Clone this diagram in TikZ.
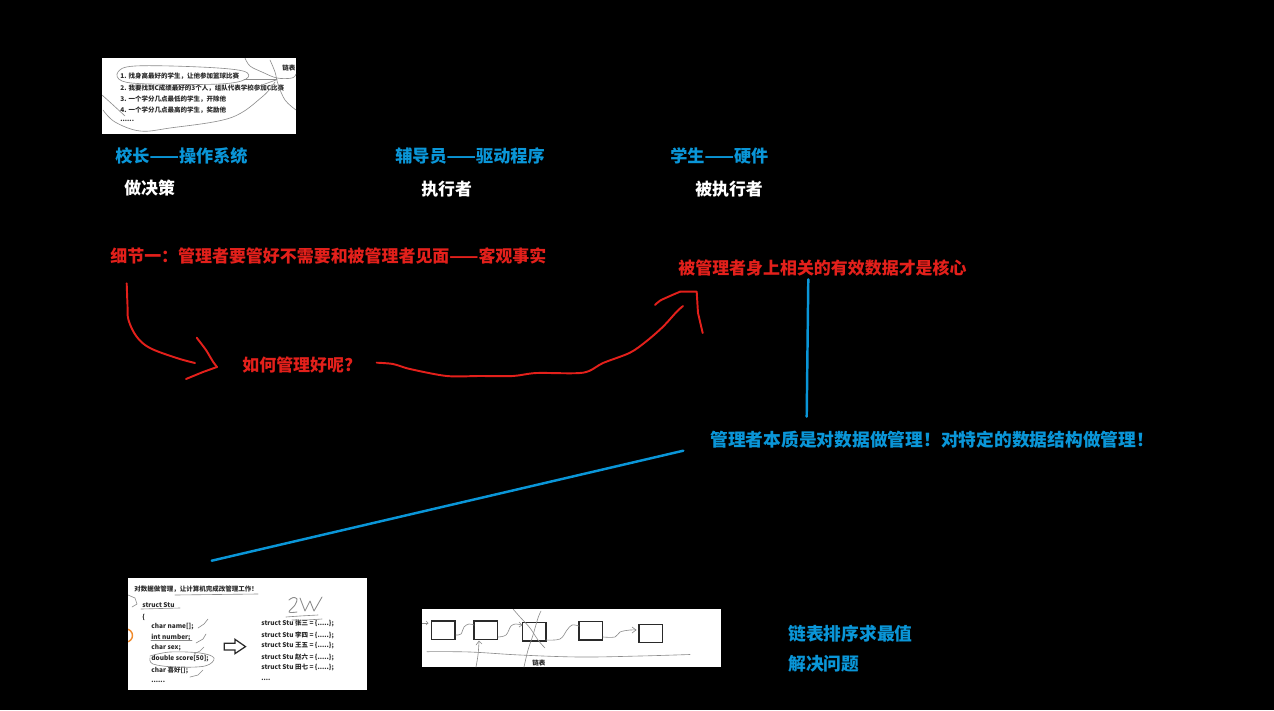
\documentclass[tikz,border=0pt]{standalone}
\usepackage{fontspec}
\setmainfont{Noto Sans CJK SC}
\definecolor{myblue}{HTML}{0A96D8}
\definecolor{myred}{HTML}{E3201B}
\definecolor{scrib}{HTML}{8C8C8C}
\definecolor{thumbink}{HTML}{2A2A2A}
\definecolor{myorange}{HTML}{F08A2C}
\begin{document}
\begin{tikzpicture}[x=0.02cm,y=-0.02cm,
  bluetxt/.style={anchor=west,inner sep=0pt,text=myblue,font=\bfseries\fontsize{9.75}{11}\selectfont},
  bluebig/.style={anchor=west,inner sep=0pt,text=myblue,font=\bfseries\fontsize{10.1}{12}\selectfont},
  whitetxt/.style={anchor=west,inner sep=0pt,text=white,font=\bfseries\fontsize{9.6}{11}\selectfont},
  redtxt/.style={anchor=west,inner sep=0pt,text=myred,font=\bfseries\fontsize{9.65}{11}\selectfont},
  thumbtxt/.style={anchor=west,inner sep=0pt,text=thumbink,font=\bfseries\fontsize{3.7}{4}\selectfont},
  scribble/.style={draw=scrib,line width=0.35pt,line cap=round,line join=round},
  redstroke/.style={draw=myred,line width=1.1pt,line cap=round,line join=round},
  blueline/.style={draw=myblue,line width=1.4pt,line cap=round},
  thumbbox/.style={draw=thumbink,line width=0.9pt}
]
\fill[black] (0,0) rectangle (1274,710);
\useasboundingbox (0,0) rectangle (1274,710);

% ---------- thumbnail 1 ----------
\fill[white] (102,58) rectangle (296,134);
\begin{scope}
\clip (102,58) rectangle (296,134);
\node[thumbtxt] (t1a) at (120,76) {1. 找身高最好的学生，让他参加篮球比赛};
\node[thumbtxt] (t1b) at (120,88) {2. 我要找到C成绩最好的3个人，组队代表学校参加C比赛};
\node[thumbtxt] (t1c) at (120,99) {3. 一个学分几点最低的学生，开除他};
\node[thumbtxt] (t1d) at (120,110) {4. 一个学分几点最高的学生，奖励他};
\node[thumbtxt] (t1e) at (120,121) {......};
\node[thumbtxt] (t1f) at (282,68) {链表};
\draw[scribble] plot[smooth cycle,tension=0.6] coordinates {(118,72) (135,66) (200,67) (243,71) (246,79) (220,84) (150,84) (122,81)};
\draw[scribble] plot[smooth,tension=0.6] coordinates {(103,110) (115,122) (140,131) (170,128) (230,118) (262,97) (275,82)};
\draw[scribble] plot[smooth,tension=0.6] coordinates {(102,95) (112,104) (125,116)};
\draw[scribble] plot[smooth,tension=0.6] coordinates {(245,58) (250,66) (262,72) (277,78) (292,78) (296,74)};
\draw[scribble] plot[smooth,tension=0.6] coordinates {(270,60) (275,72) (278,84) (285,100) (296,110)};
\draw[scribble] (244,79) -- (277,79);
\draw[scribble] (248,90) -- (276,80);
\end{scope}

% ---------- headings ----------
\node[bluetxt] (principal) at (115,156) {校长——操作系统};
\node[whitetxt] (decide) at (124,188) {做决策};
\node[bluetxt] (counselor) at (395,156) {辅导员——驱动程序};
\node[whitetxt] (executor) at (421,189) {执行者};
\node[bluetxt] (student) at (670,156) {学生——硬件};
\node[whitetxt] (executed) at (695,189) {被执行者};

\node[redtxt] (detail) at (110,256) {细节一：管理者要管好不需要和被管理者见面——客观事实};
\node[redtxt] (core) at (678,268) {被管理者身上相关的有效数据才是核心};
\node[redtxt] (how) at (242,365) {如何管理好呢?};
\node[bluebig] (essence) at (710,440) {管理者本质是对数据做管理！对特定的数据结构做管理！};
\node[bluebig] (sortmax) at (788,634) {链表排序求最值};
\node[bluebig] (solve) at (788,664) {解决问题};

% ---------- red hand-drawn arrows ----------
\coordinate (a1s) at (126.7,283.3);
\coordinate (a1e) at (195,363);
\draw[redstroke] plot[smooth,tension=0.6] coordinates {(a1s) (127.5,305) (128.5,320) (136.7,336.7) (150,348) (176.7,358) (a1e)};
\draw[redstroke] plot[smooth,tension=0.3] coordinates {(196.7,337.7) (206,350) (213,361.7) (217,367)};
\draw[redstroke] (217,367) -- (203,372) -- (186,379);

\coordinate (a2s) at (376.7,362.7);
\coordinate (a2e) at (683,306);
\draw[redstroke] plot[smooth,tension=0.5] coordinates {(a2s) (393,364) (410,369) (446.7,376) (480,376) (513,376) (536.7,373) (583,372.7) (603,363) (630,352.7) (646.7,341) (663,326.7) (676.7,311.7) (a2e)};
\draw[redstroke] plot[smooth,tension=0.5] coordinates {(655,305) (660,300.7) (670,296) (680,291.7)};
\draw[redstroke] (680,291.7) -- (696.7,291.7) -- (697.5,305) -- (698,313) -- (702.7,333);

% ---------- blue connectors ----------
\coordinate (vtop) at (808.3,279.3);
\coordinate (vbot) at (806.7,416.7);
\draw[blueline] (vtop) -- (vbot);
\coordinate (dtop) at (683.3,450.7);
\coordinate (dbot) at (211.7,560.7);
\draw[blueline] (dtop) -- (dbot);

% ---------- thumbnail 2 ----------
\fill[white] (128,578) rectangle (367,690);
\begin{scope}
\clip (128,578) rectangle (367,690);
\node[thumbtxt] (t2h) at (134,589) {对数据做管理，让计算机完成改管理工作！};
\node[thumbtxt] (s1) at (142,605) {struct Stu};
\node[thumbtxt] (s2) at (142,617) {\{};
\node[thumbtxt] (s3) at (151,627) {char name[];};
\node[thumbtxt] (s4) at (151,638) {int number;};
\node[thumbtxt] (s5) at (151,648) {char sex;};
\node[thumbtxt] (s6) at (151,659) {double score[50];};
\node[thumbtxt] (s7) at (151,670) {char 喜好[];};
\node[thumbtxt] (s8) at (151,682) {......};
\node[thumbtxt] (r1) at (261,624) {struct Stu 张三 = \{.....\};};
\node[thumbtxt] (r2) at (261,635) {struct Stu 李四 = \{.....\};};
\node[thumbtxt] (r3) at (261,646) {struct Stu 王五 = \{.....\};};
\node[thumbtxt] (r4) at (261,657) {struct Stu 赵六 = \{.....\};};
\node[thumbtxt] (r5) at (261,668) {struct Stu 田七 = \{.....\};};
\node[thumbtxt] (r6) at (261,680) {....};
\draw[thumbink,line width=0.7pt,line join=miter] (224.3,643.3) -- (235,643.3) -- (235,639.3) -- (245.5,646.6) -- (235,653.6) -- (235,650) -- (224.3,650) -- cycle;
% scribbles
\draw[scribble] (175,595) -- (258,594);
\draw[scribble] (141,609) -- (180,608);
\draw[scribble] plot[smooth,tension=0.6] coordinates {(150,656) (170,652) (200,653) (214,658) (205,666) (175,667) (153,664) (150,658)};
\draw[scribble] (198,628) -- (204,624) -- (208,619);
\draw[scribble] (196,643) -- (203,639) -- (206,634);
\draw[scribble] (194,654) -- (200,651) -- (204,647);
\draw[scribble] (190,677) -- (198,675) -- (203,670);
\draw[scribble] (151,640) -- (192,640);
\draw[scribble] (128,595) -- (135,598) -- (137,604) -- (132,607);
% 2W
\draw[scribble,line width=0.5pt] plot[smooth,tension=0.6] coordinates {(289,600) (293,597.5) (297,599) (295,605) (289,612) (297,612)};
\draw[scribble,line width=0.5pt] (300,598) -- (305,611) -- (310,601) -- (314,611) -- (322,597);
\draw[scribble] plot[smooth,tension=0.6] coordinates {(286,617) (300,616) (318,615)};
\draw[scribble] plot[smooth,tension=0.6] coordinates {(292,620) (305,620) (322,619)};
% orange arc
\draw[myorange,line width=0.8pt] (126,642) arc[start angle=90,end angle=-90,radius=6.5];
\end{scope}

% ---------- thumbnail 3 ----------
\fill[white] (422,609) rectangle (721,667);
\begin{scope}
\clip (422,609) rectangle (721,667);
\draw[thumbbox] (431.7,621) rectangle (455,639.3);
\draw[thumbbox] (474,621) rectangle (497.7,639.3);
\draw[thumbbox] (522.3,622.7) rectangle (546,641);
\draw[thumbbox] (579,621.7) rectangle (602.7,640);
\draw[thumbbox] (639,624.3) rectangle (662.3,642.7);
\node[thumbtxt] (lbl) at (532,663) {链表};
% arrows between boxes
\draw[scribble] (422,623) -- (428,623);
\draw[scribble] (426,621) -- (428,623) -- (426,625);
\draw[scribble] plot[smooth,tension=0.6] coordinates {(456,635) (461,634) (464,627) (469,624) (474,625)};
\draw[scribble] plot[smooth,tension=0.6] coordinates {(498,637) (506,635) (511,626) (516,624) (522,625)};
\draw[scribble] (519,622) -- (522,625) -- (519,627);
\draw[scribble] plot[smooth,tension=0.6] coordinates {(546,640) (560,639) (567,630) (572,625) (579,626)};
\draw[scribble] plot[smooth,tension=0.6] coordinates {(603,637) (615,637) (620,632) (630,630) (636,630)};
\draw[scribble] (632,627) -- (636,630) -- (632,633);
% long line and crossings
\draw[scribble] plot[smooth,tension=0.6] coordinates {(427,651.7) (470,652) (520,655) (580,657) (640,656) (690,654.5)};
\draw[scribble] plot[smooth,tension=0.6] coordinates {(513,609) (520,617) (530,628) (538,640) (545,648)};
\draw[scribble] plot[smooth,tension=0.6] coordinates {(524,667) (528,650) (533,635) (538,618) (541,611)};
\draw[scribble] plot[smooth,tension=0.6] coordinates {(476,667) (478,655) (479,642)};
\draw[scribble] (476,645) -- (479,641) -- (482,644);
\end{scope}
\end{tikzpicture}
\end{document}
